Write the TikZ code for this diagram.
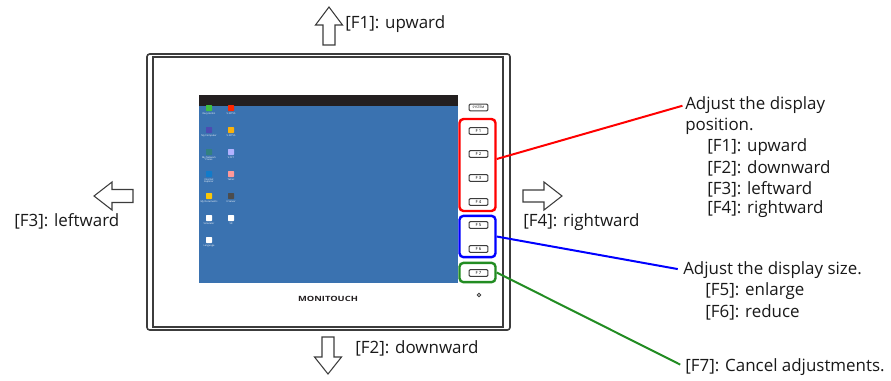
\documentclass[tikz,border=0pt]{standalone}
\usepackage{fontspec}
\setmainfont{Open Sans}
\definecolor{screenblue}{RGB}{58,114,176}
\definecolor{barblack}{RGB}{35,31,32}
\definecolor{frame}{RGB}{60,60,60}
\definecolor{grpgreen}{RGB}{34,140,34}
\begin{document}
\begin{tikzpicture}[x=0.75pt,y=-0.75pt,
  every node/.style={inner sep=0pt},
  lbl/.style={anchor=west,text=black!90,font=\fontsize{12.7}{14}\selectfont},
  fkey/.style={draw=frame,fill=white,rounded corners=0.8pt,line width=0.8pt,
    minimum width=14pt,minimum height=5pt,font=\fontsize{3.2}{3.2}\selectfont},
  grp/.style={rounded corners=3pt,line width=1.8pt,minimum width=27pt},
  icon/.style={minimum size=4.5pt,rounded corners=0.5pt},
  iconlbl/.style={text=white,font=\fontsize{1.8}{1.8}\selectfont,inner sep=0.6pt},
  arrowshape/.style={draw=frame,line width=0.8pt,fill=white,line join=miter}]
\useasboundingbox (0,0) rectangle (891,380);

\draw[rounded corners=2pt, line width=1.2pt, frame] (147,54) rectangle (510,330);
\draw[line width=1.2pt, frame] (153,57) rectangle (503,327);

\fill[screenblue] (199,95) rectangle (458,283);
\fill[barblack] (199,95) rectangle (458,106);

\node[icon, fill=green!50!gray, label={[iconlbl]below:Recycle Bin}] (i1) at (209,108) {};
\node[icon, fill=red!70!orange, label={[iconlbl]below:V-SFTV5}] (i2) at (231,108) {};
\node[icon, fill=blue!40!gray, label={[iconlbl]below:My Computer}] (i3) at (209,130) {};
\node[icon, fill=yellow!70!red, label={[iconlbl]below:V-SFTV5}] (i4) at (231,130) {};
\node[icon, fill=teal!60!gray, label={[iconlbl,align=center]below:My Network\\Places}] (i5) at (209,152) {};
\node[icon, fill=blue!30!white, label={[iconlbl]below:V-SFT}] (i6) at (231,152) {};
\node[icon, fill=cyan!60!blue, label={[iconlbl,align=center]below:Internet\\Explorer}] (i7) at (209,174) {};
\node[icon, fill=red!40!white, label={[iconlbl]below:Telnet}] (i8) at (231,174) {};
\node[icon, fill=yellow!60!orange, label={[iconlbl]below:My Documents}] (i9) at (209,196) {};
\node[icon, fill=gray!60!black, label={[iconlbl]below:V-Server}] (i10) at (231,196) {};
\node[icon, fill=white, label={[iconlbl]below:Simulator}] (i11) at (209,218) {};
\node[icon, fill=white, label={[iconlbl]below:V8}] (i12) at (231,218) {};
\node[icon, fill=white, label={[iconlbl]below:Language}] (i13) at (209,240) {};

\node[fkey, font=\fontsize{2.4}{2.4}\selectfont] (sys) at (478.5,107.5) {SYSTEM};
\node[fkey] (f1) at (478.5,131) {F 1};
\node[fkey] (f2) at (478.5,154) {F 2};
\node[fkey] (f3) at (478.5,178) {F 3};
\node[fkey] (f4) at (478.5,202) {F 4};
\node[fkey] (f5) at (478.5,225) {F 5};
\node[fkey] (f6) at (478.5,249) {F 6};
\node[fkey] (f7) at (478.5,273) {F 7};

\node[xscale=1.3, font=\fontsize{5.4}{5.4}\selectfont\bfseries, text=barblack] (logo) at (328,299) {MONITOUCH};
\draw[frame, line width=0.7pt] (479,295) circle (1.8);

\node[grp, draw=red, minimum height=69pt] (pos) at (477.5,165) {};
\node[grp, draw=blue, minimum height=31pt] (size) at (477.5,236.5) {};
\node[grp, draw=grpgreen, minimum height=14.5pt] (cancel) at (477.5,272.5) {};

\draw[arrowshape] (323,45) -- (323,25) -- (315.5,25) -- (329,7) -- (342.5,25) -- (335,25) -- (335,45) -- cycle;
\draw[arrowshape] (322,337) -- (322,357) -- (314.5,357) -- (328,374) -- (341.5,357) -- (334,357) -- (334,337) -- cycle;
\draw[arrowshape] (133,189.5) -- (112,189.5) -- (112,182) -- (94,196) -- (112,210) -- (112,202.5) -- (133,202.5) -- cycle;
\draw[arrowshape] (523,190) -- (544,190) -- (544,182) -- (562,196) -- (544,210) -- (544,202) -- (523,202) -- cycle;

\node[lbl] (up) at (345,24) {[F1]: upward};
\node[lbl] (down) at (355,348) {[F2]: downward};
\node[lbl] (left) at (14,221) {[F3]: leftward};
\node[lbl] (right) at (523,222) {[F4]: rightward};

\node[lbl] (adj) at (685,105) {Adjust the display};
\node[lbl] (adj2) at (685,126) {position.};
\node[lbl] (k1) at (707,147) {[F1]: upward};
\node[lbl] (k2) at (707,168) {[F2]: downward};
\node[lbl] (k3) at (707,189) {[F3]: leftward};
\node[lbl] (k4) at (707,209) {[F4]: rightward};
\node[lbl] (sz) at (683,270) {Adjust the display size.};
\node[lbl] (k5) at (705,291) {[F5]: enlarge};
\node[lbl] (k6) at (705,312) {[F6]: reduce};
\node[lbl] (cn) at (685,367) {[F7]: Cancel adjustments.};

\draw[red, line width=1.5pt, shorten >=2pt] ([yshift=4.5pt]pos.east) -- (adj.west);
\draw[blue, line width=1.5pt, shorten >=4pt] (size.east) -- (sz.west);
\draw[grpgreen, line width=1.5pt, shorten >=4pt] (cancel.east) -- (cn.west);
\end{tikzpicture}
\end{document}
